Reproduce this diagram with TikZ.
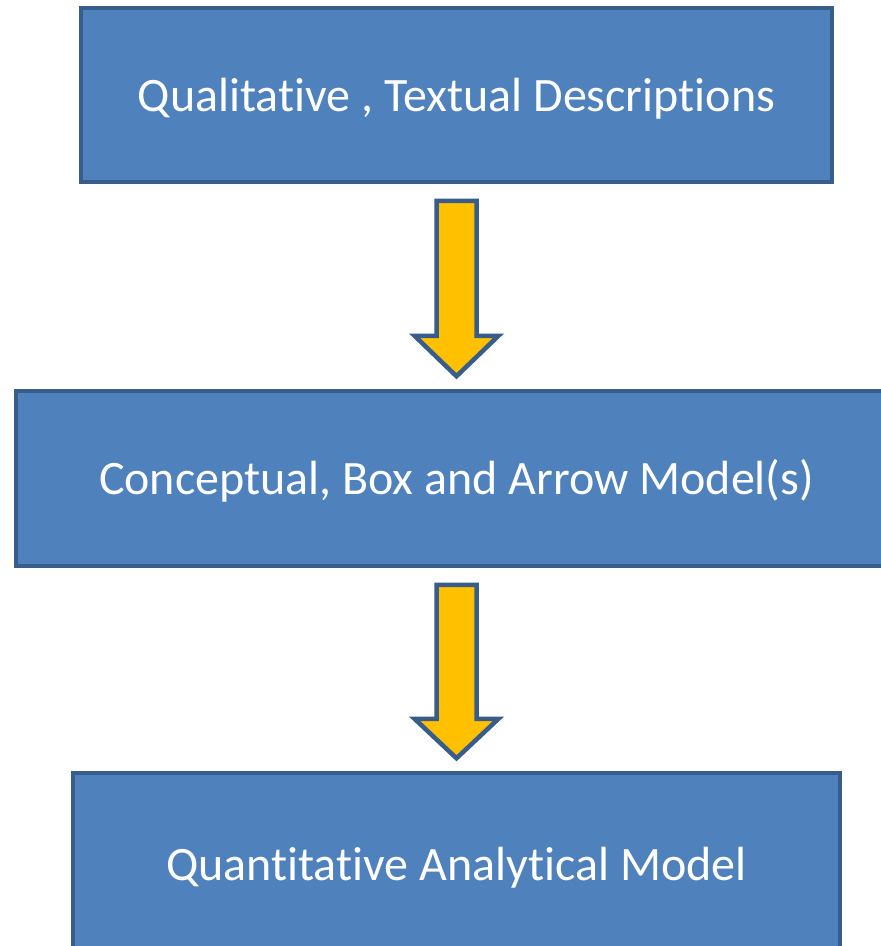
\documentclass[tikz,border=0pt]{standalone}
\usepackage{fontspec}
\setmainfont[Ligatures={NoCommon}]{Carlito}
\usetikzlibrary{calc}
\definecolor{boxfill}{HTML}{4F81BD}
\definecolor{boxline}{HTML}{385D8A}
\definecolor{arrfill}{HTML}{FFC000}
\begin{document}
\begin{tikzpicture}[x=1pt,y=-1pt,
  box/.style={draw=boxline,fill=boxfill,line width=3.5pt,text=white,
    font=\fontsize{48}{56}\selectfont,inner sep=0pt,text height=36pt,text depth=4pt},
  blockarrow/.style={draw=boxline,fill=arrfill,line width=4.5pt,line join=miter}]
\useasboundingbox (0,0) rectangle (881,946);
\clip (0,0) rectangle (881,946);
\fill[white] (0,0) rectangle (881,946);
\node[box,minimum width=751pt,minimum height=174pt] (b1) at (456.5,95) {Qualitative , Textual Descriptions};
\node[box,minimum width=881pt,minimum height=175pt] (b2) at (456.5,478.5) {Conceptual, Box and Arrow Model(s)};
\node[box,minimum width=767pt,minimum height=182pt] (b3) at (456.5,864) {Quantitative Analytical Model};
\draw[blockarrow] ($(b1.south)+(-20,17)$) -- ($(b1.south)+(20,17)$) -- ($(b1.south)+(20,152)$)
  -- ($(b1.south)+(42,152)$) -- ($(b2.north)+(0,-13)$) -- ($(b1.south)+(-42,152)$)
  -- ($(b1.south)+(-20,152)$) -- cycle;
\draw[blockarrow] ($(b2.south)+(-20,17)$) -- ($(b2.south)+(20,17)$) -- ($(b2.south)+(20,151)$)
  -- ($(b2.south)+(42,151)$) -- ($(b3.north)+(0,-13)$) -- ($(b2.south)+(-42,151)$)
  -- ($(b2.south)+(-20,151)$) -- cycle;
\end{tikzpicture}
\end{document}
